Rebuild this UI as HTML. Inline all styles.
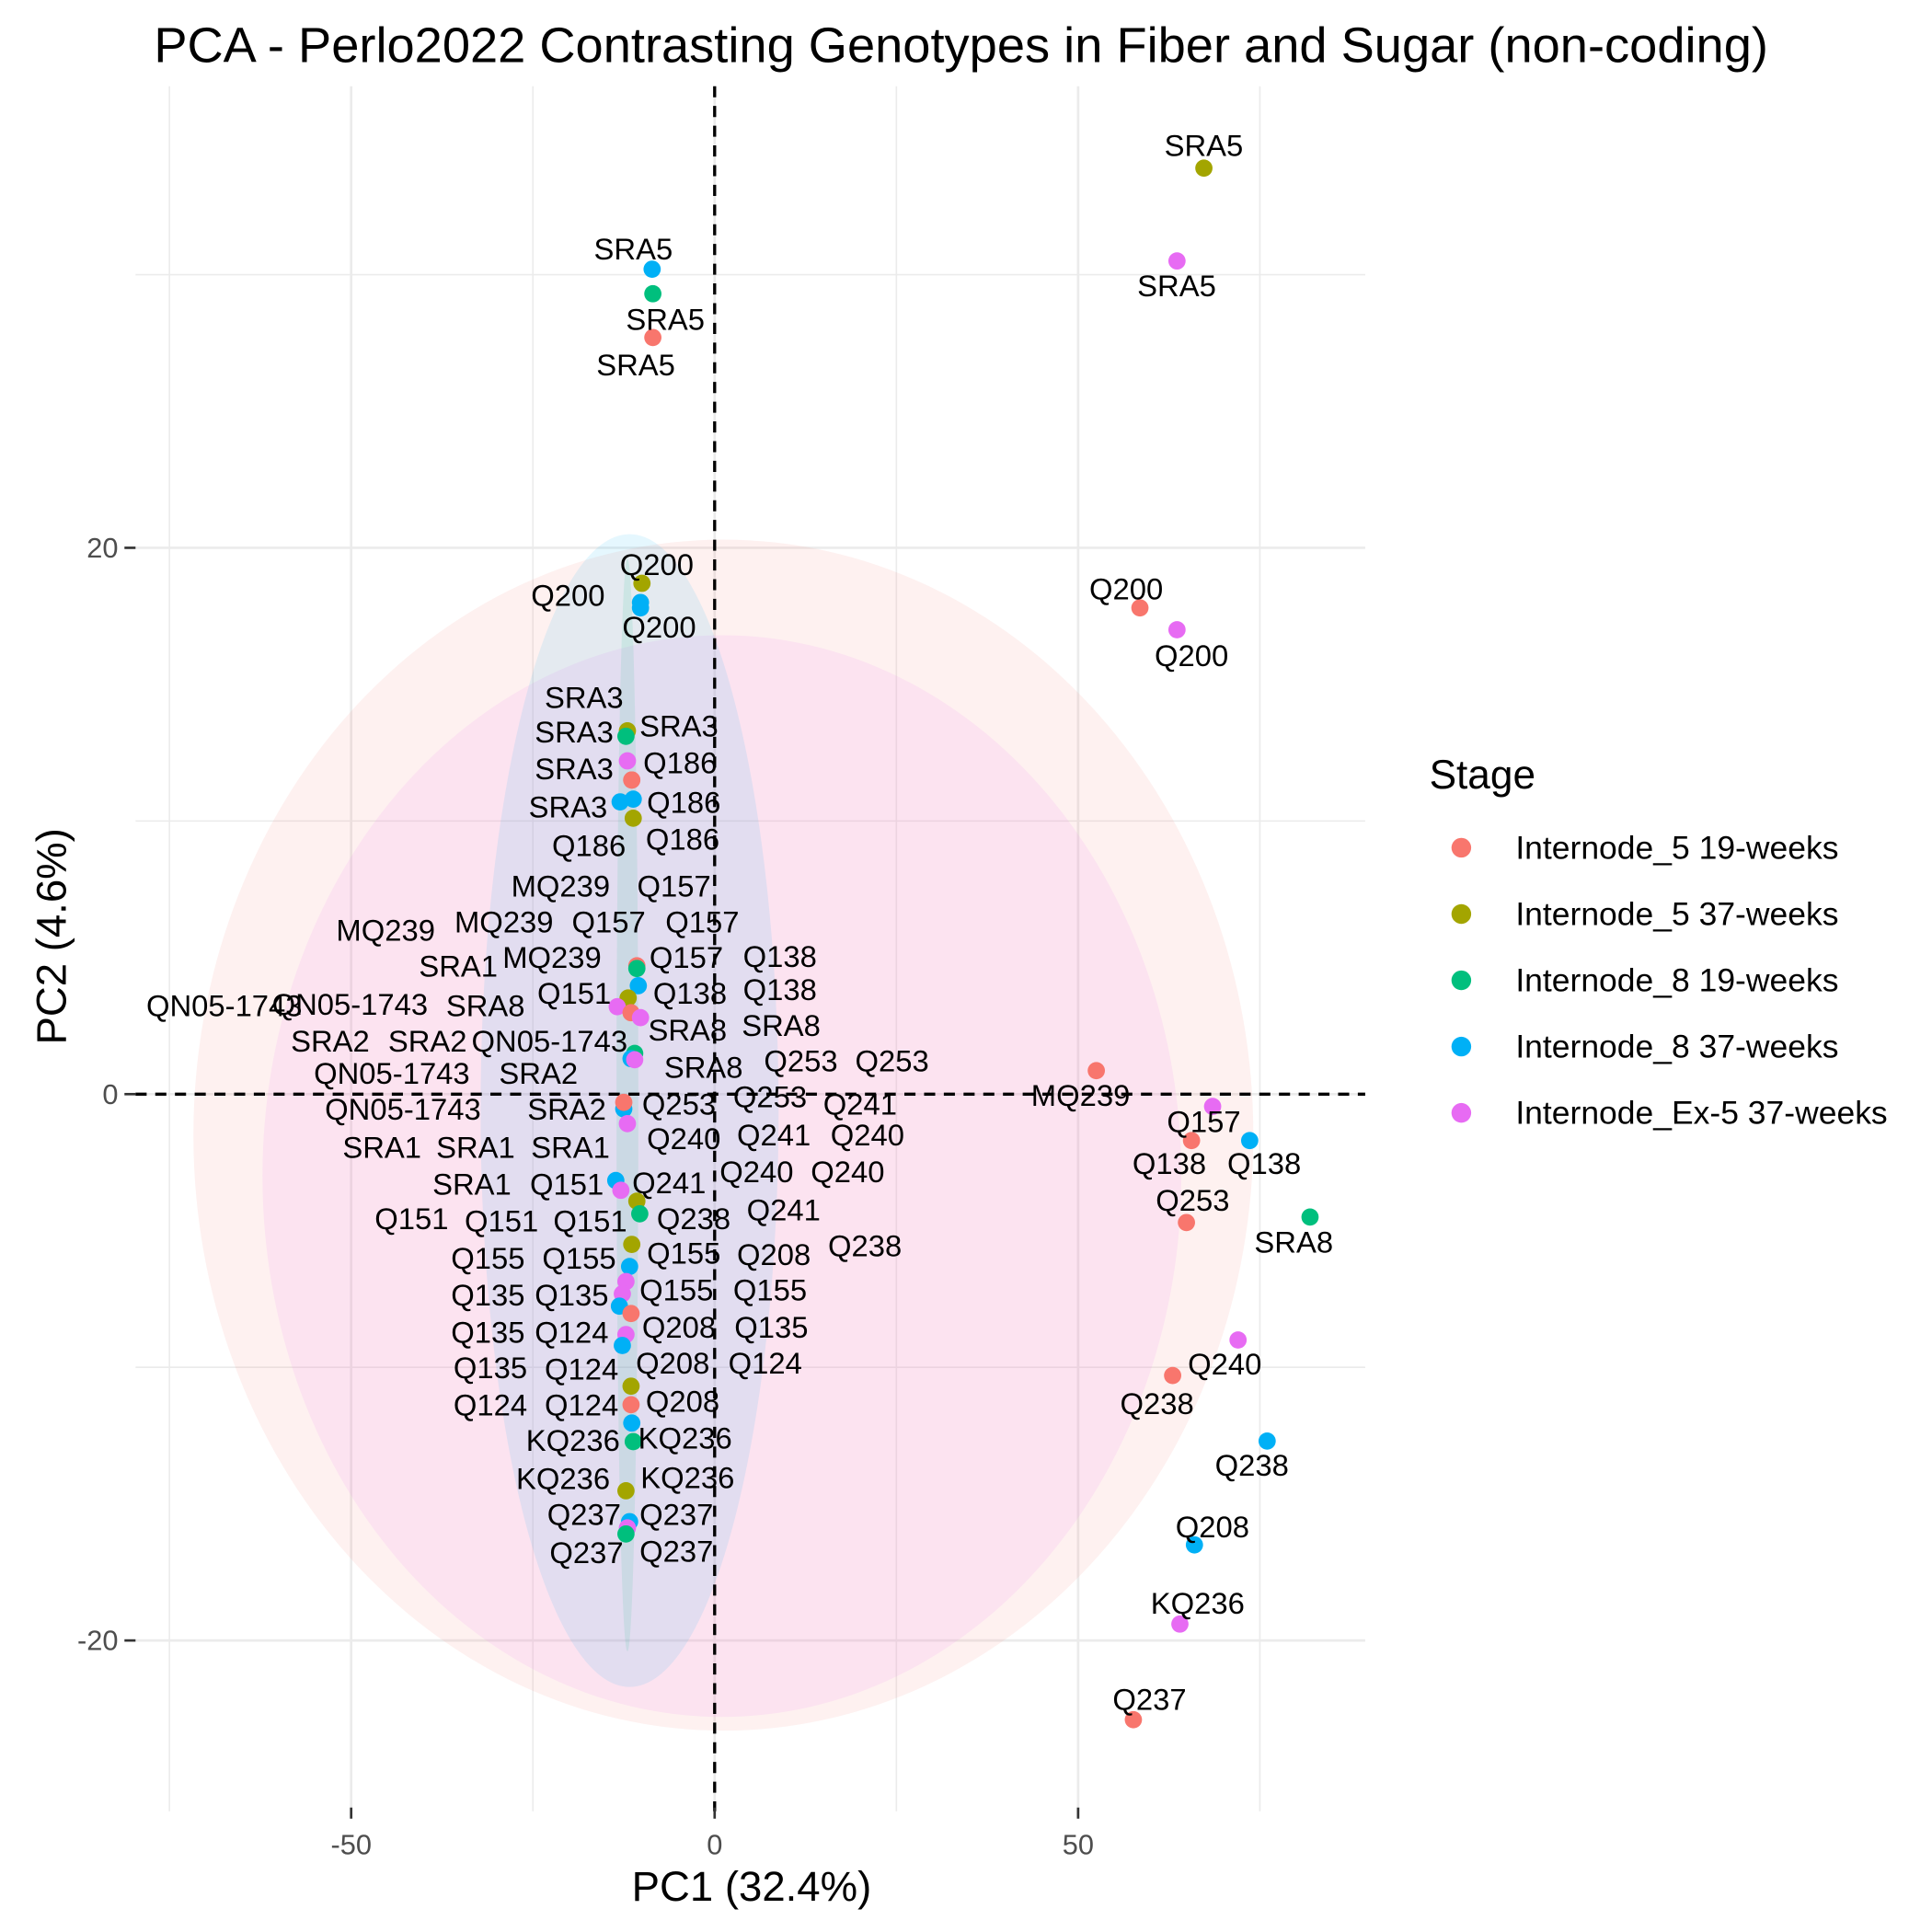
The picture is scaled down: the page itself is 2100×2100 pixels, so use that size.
<!DOCTYPE html>
<html><head><meta charset="utf-8"><style>
html,body{margin:0;padding:0;background:#fff}
svg{display:block}
text{font-family:"Liberation Sans",sans-serif}
</style></head><body>
<svg id="chart" width="2100" height="2100" viewBox="0 0 1568 1568" xmlns="http://www.w3.org/2000/svg">
<rect width="1568" height="1568" fill="#fff"/>
<g id="grid"></g>
<g id="ellipses"></g>
<g id="refs"></g>
<g id="points"></g>
<g id="labels" font-size="24.5" fill="#000" text-anchor="middle" dominant-baseline="central"></g>
<g id="axes"></g>
<text x="780" y="37" font-size="40.5" text-anchor="middle" dominant-baseline="central">PCA - Perlo2022 Contrasting Genotypes in Fiber and Sugar (non-coding)</text>
<text x="610" y="1531" font-size="34" text-anchor="middle" dominant-baseline="central">PC1 (32.4%)</text>
<text x="42" y="760" font-size="34" text-anchor="middle" dominant-baseline="central" transform="rotate(-90 42 760)">PC2 (4.6%)</text>
<g id="legend">
<text x="1160" y="629" font-size="33" dominant-baseline="central">Stage</text>
</g>
</svg>
<script>
const stages = ["Internode_5 19-weeks","Internode_5 37-weeks","Internode_8 19-weeks","Internode_8 37-weeks","Internode_Ex-5 37-weeks"];
const colors = ["#F8766D","#A3A500","#00BF7D","#00B0F6","#E76BF3"];
const xTicks = [-50,0,50];
const yTicks = [-20,0,20];
// points: stage index, PC1, PC2
const ptStage = [1,4,0,4,0,4,0,3,0,2,3,0,3,4,0,4,0,
 3,2,0,1,3,3,1,2,4,0,3,3,1,
 0,2,3,1,4,0,4,2,3,4,3,4,0,3,4,1,2,1,3,4,4,3,0,4,3,1,0,3,2,1,3,4,2];
const ptX = [67.3,63.6,58.5,63.6,52.5,68.5,65.6,73.6,64.9,81.9,76.0,63.0,66.0,64.0,57.6,72.0,-8.5,
 -8.6,-8.5,-11.4,-10.0,-10.2,-10.2,-12.0,-12.2,-12.0,-11.4,-13.0,-11.2,-11.2,
 -10.7,-10.7,-10.5,-11.9,-13.4,-11.5,-10.2,-11.0,-11.5,-11.0,-12.5,-12.0,-12.5,-13.6,-12.9,-10.7,-10.3,-11.4,-11.7,-12.2,-12.7,-13.1,-11.5,-12.2,-12.7,-11.5,-11.5,-11.4,-11.2,-12.2,-11.7,-12.0,-12.2];
const ptY = [33.9,30.5,17.8,17.0,0.86,-0.45,-1.7,-1.7,-4.7,-4.5,-12.7,-10.3,-16.5,-19.4,-22.9,-9.0,27.7,
 30.2,29.3,11.5,18.7,18.0,17.8,13.3,13.1,12.2,11.5,10.7,10.8,10.1,
 4.7,4.6,3.97,3.52,3.2,2.98,2.8,1.49,1.3,1.26,-0.54,-1.08,-0.3,-3.16,-3.52,-3.92,-4.38,-5.5,-6.31,-6.86,-7.31,-7.76,-8.03,-8.8,-9.2,-10.69,-11.37,-12.04,-12.72,-14.52,-15.65,-15.88,-16.1];
// ellipse params (data units)
const ellStage = [0,4,3,2];
const ellCX = [1.2,1.0,-11.7,-12.0];
const ellCY = [-1.5,-3.0,-0.6,-0.4];
const ellRX = [72.9,63.2,20.5,1.5];
const ellRY = [21.8,19.8,21.1,20.0];

const X0=110,X1=1108,Y0=70,Y1=1470;
const sx = v => 580 + v*5.9;
const sy = v => 888 - v*22.17;
const NS="http://www.w3.org/2000/svg";
function mk(tag,attrs,parent){const e=document.createElementNS(NS,tag);for(const k in attrs)e.setAttribute(k,attrs[k]);parent.appendChild(e);return e;}
const grid=document.getElementById('grid');
for(const v of [-75,-50,-25,0,25,50,75]){const l=mk('line',{x1:sx(v),x2:sx(v),y1:Y0,y2:Y1,stroke:'#ebebeb','stroke-width':v%50===0?2:1.2},grid);

}
for(const v of [-30,-20,-10,0,10,20,30]){const y=sy(v);if(y<Y0||y>Y1)continue;const l=mk('line',{x1:X0,x2:X1,y1:y,y2:y,stroke:'#ebebeb','stroke-width':v%20===0?2:1.2},grid);

}
const eg=document.getElementById('ellipses');
ellStage.forEach((s,i)=>{const e=mk('ellipse',{cx:sx(ellCX[i]),cy:sy(ellCY[i]),rx:ellRX[i]*5.9,ry:ellRY[i]*22.17,fill:colors[s],'fill-opacity':0.1},eg);

});
const rg=document.getElementById('refs');
let l1=mk('line',{x1:sx(0),x2:sx(0),y1:Y0,y2:Y1,stroke:'#000','stroke-width':2.5,'stroke-dasharray':'9,7'},rg);


let l2=mk('line',{x1:X0,x2:X1,y1:sy(0),y2:sy(0),stroke:'#000','stroke-width':2.5,'stroke-dasharray':'9,7'},rg);


const pg=document.getElementById('points');
ptX.forEach((x,i)=>{const c=mk('circle',{cx:sx(x),cy:sy(ptY[i]),r:7,fill:colors[ptStage[i]]},pg);

});
const ax=document.getElementById('axes');
xTicks.forEach(v=>{mk('line',{x1:sx(v),x2:sx(v),y1:Y1-3,y2:Y1+6,stroke:'#333','stroke-width':2},ax);
const t=mk('text',{x:sx(v),y:1497,'font-size':23,fill:'#4d4d4d','text-anchor':'middle','dominant-baseline':'central'},ax);t.textContent=v;

});
yTicks.forEach(v=>{mk('line',{x1:X0-9,x2:X0,y1:sy(v),y2:sy(v),stroke:'#333','stroke-width':2},ax);
const t=mk('text',{x:96,y:sy(v),'font-size':23,fill:'#4d4d4d','text-anchor':'end','dominant-baseline':'central'},ax);t.textContent=v;

});
const lg=document.getElementById('legend');
stages.forEach((s,i)=>{const y=688+i*53.8;
const c=mk('circle',{cx:1186,cy:y,r:8,fill:colors[i]},lg);


const t=mk('text',{x:1230,y:y,'font-size':26.5,'dominant-baseline':'central'},lg);t.textContent=s;

});
const labs=[["SRA5",977,118],["SRA5",955,232],["SRA5",514,202],["SRA5",540,259],["SRA5",516,296],["Q200",533,458],["Q200",461,483],["Q200",535,509],["Q200",914,478],["Q200",967,532],["SRA3",474,566],["SRA3",551,589],["SRA3",466,594],["Q186",552,619],["SRA3",466,624],["SRA3",461,655],["Q186",555,651],["Q186",478,686],["Q186",554,681],["MQ239",455,719],["Q157",547,719],["MQ239",313,755],["MQ239",409,748],["Q157",494,748],["Q157",570,748],["MQ239",448,777],["Q157",557,777],["Q138",633,776],["SRA1",372,784],["Q151",466,806],["Q138",560,806],["Q138",633,803],["QN05-1743",182,816],["QN05-1743",284,815],["SRA8",394,816],["SRA8",558,836],["SRA8",634,832],["SRA2",268,845],["SRA2",347,845],["QN05-1743",446,845],["Q253",650,861],["Q253",724,861],["SRA8",571,866],["QN05-1743",318,871],["SRA2",437,871],["Q253",551,896],["Q253",625,890],["Q241",698,896],["QN05-1743",327,900],["SRA2",460,900],["Q240",555,924],["Q241",628,921],["Q240",704,921],["SRA1",310,931],["SRA1",386,931],["SRA1",463,931],["Q240",614,951],["Q240",688,951],["SRA1",383,961],["Q151",460,961],["Q241",543,960],["Q241",636,982],["Q151",334,989],["Q151",407,991],["Q151",479,991],["Q238",563,989],["Q208",628,1018],["Q238",702,1011],["Q155",396,1021],["Q155",470,1021],["Q155",555,1017],["Q155",549,1047],["Q155",625,1047],["Q135",396,1051],["Q135",464,1051],["Q208",551,1077],["Q135",626,1077],["Q135",396,1081],["Q124",464,1081],["Q208",546,1106],["Q124",621,1106],["Q135",398,1110],["Q124",472,1111],["Q208",554,1137],["Q124",398,1140],["Q124",472,1140],["KQ236",465,1169],["KQ236",556,1167],["KQ236",457,1200],["KQ236",558,1199],["Q237",474,1229],["Q237",549,1229],["Q237",476,1260],["Q237",549,1259],["MQ239",877,889],["Q157",977,910],["Q138",949,944],["Q138",1026,944],["Q253",968,974],["SRA8",1050,1008],["Q240",994,1107],["Q238",939,1139],["Q238",1016,1189],["Q208",984,1239],["KQ236",972,1301],["Q237",933,1379]];
const lbg=document.getElementById('labels');
labs.forEach(a=>{const t=mk('text',{x:a[1],y:a[2]},lbg);t.textContent=a[0];

});
</script>
</body></html>
